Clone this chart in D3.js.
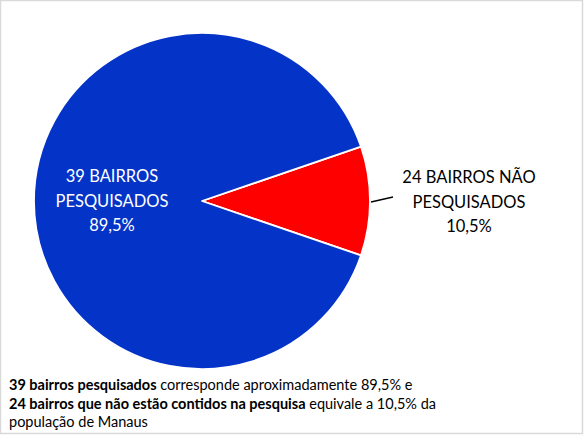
<!DOCTYPE html>
<html><head><meta charset="utf-8">
<script src="https://cdn.jsdelivr.net/npm/d3@7"></script>
<style>body{margin:0;background:#fff}svg{display:block}</style>
</head><body>
<svg id="c" width="584" height="436"></svg>
<script>
const categories = ["24 BAIRROS NÃO PESQUISADOS", "39 BAIRROS PESQUISADOS"];
const labelLines = [["24 BAIRROS NÃO", "PESQUISADOS"], ["39 BAIRROS", "PESQUISADOS"]];
const values = [10.5, 89.5];
const valueLabels = ["10,5%", "89,5%"];
const colors = ["#FF0000", "#0433C8"];

const svg = d3.select("#c");
const W = 584, H = 436;
svg.append("rect").attr("x",0.5).attr("y",0.5).attr("width",W-2).attr("height",H-3)
  .attr("fill","#fff").attr("stroke","#d9d9d9").attr("stroke-width",1.5);

const cx = 202, cy = 201, R = 168;
const data = categories.map((c,i)=>({cat:c, v:values[i], lines:labelLines[i], vl:valueLabels[i], col:colors[i]}));
// first slice centered on the right (90deg)
const startA = Math.PI/2 - (values[0]/100)*Math.PI;
const pie = d3.pie().value(d=>d.v).sort(null).startAngle(startA).endAngle(startA+2*Math.PI);
const arcs = pie(data);
const arc = d3.arc().innerRadius(0).outerRadius(R);
const g = svg.append("g").attr("transform",`translate(${cx},${cy})`);
g.selectAll("path").data(arcs).join("path")
  .attr("d",arc).attr("fill",d=>d.data.col)
  .attr("stroke","#fff").attr("stroke-width",1.8).attr("stroke-linejoin","round");

const font = "Lato, 'Noto Sans', sans-serif";
// inside label for big slice
const big = arcs[1];
const bt = svg.append("text").attr("font-family",font).attr("font-size",16.5).attr("fill","#fff").attr("text-anchor","middle");
[...big.data.lines, big.data.vl].forEach((t,i)=>{
  bt.append("tspan").attr("x",112).attr("y",182+i*24.5).text(t);
});
// outside label for small slice
const sm = arcs[0];
const mid = (sm.startAngle+sm.endAngle)/2;
const p0 = [cx + Math.sin(mid)*(R+1), cy - Math.cos(mid)*(R+1)];
svg.append("line").attr("x1",p0[0]).attr("y1",p0[1]+1).attr("x2",p0[0]+22).attr("y2",p0[1]-4)
  .attr("stroke","#000").attr("stroke-width",1.3);
const st = svg.append("text").attr("font-family",font).attr("font-size",16.5).attr("fill","#000").attr("text-anchor","middle");
[...sm.data.lines, sm.data.vl].forEach((t,i)=>{
  st.append("tspan").attr("x",469).attr("y",183+i*24.5).text(t);
});

// footnote
const foot = [
  [["39 bairros pesquisados",true],[" corresponde aproximadamente 89,5% e",false]],
  [["24 bairros que não estão contidos na pesquisa",true],[" equivale a 10,5% da",false]],
  [["população de Manaus",false]]
];
foot.forEach((line,i)=>{
  const t = svg.append("text").attr("x",9).attr("y",390+i*18.5).attr("font-family",font).attr("font-size",14.5).attr("fill","#000");
  line.forEach(([s,b])=>t.append("tspan").attr("font-weight",b?"bold":"normal").text(s));
});
</script>
</body></html>
